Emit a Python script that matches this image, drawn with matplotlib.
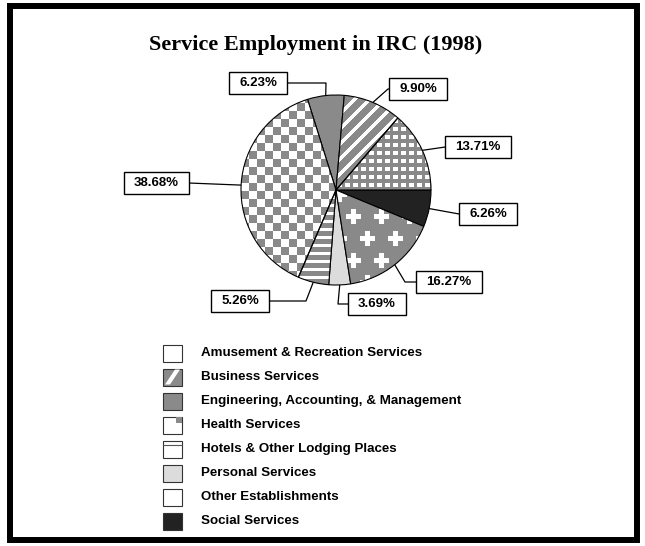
import numpy as np
import matplotlib
matplotlib.use("Agg")
import matplotlib.pyplot as plt
from matplotlib.patches import Rectangle, Polygon

# ---------------- data ----------------
title = "Service Employment in IRC (1998)"
legend_labels = ["Amusement & Recreation Services", "Business Services",
                 "Engineering, Accounting, & Management", "Health Services",
                 "Hotels & Other Lodging Places", "Personal Services",
                 "Other Establishments", "Social Services"]
# pie order (counter-clockwise from 3 o'clock)
pie_categories = ["Health Services", "Business Services",
                  "Engineering, Accounting, & Management",
                  "Amusement & Recreation Services",
                  "Hotels & Other Lodging Places", "Personal Services",
                  "Other Establishments", "Social Services"]
pie_values = [13.71, 9.90, 6.23, 38.68, 5.26, 3.69, 16.27, 6.26]

# ---------------- layout (pixels from top-left) ----------------
W, H = 645, 546
CX, CY, R = 336, 190, 95
label_pos = {
    "Health Services": ((478, 147), None),
    "Business Services": ((418, 89), (388, 89)),
    "Engineering, Accounting, & Management": ((258, 83), (326, 83)),
    "Amusement & Recreation Services": ((156, 183), None),
    "Hotels & Other Lodging Places": ((240, 301), (306, 301)),
    "Personal Services": ((377, 304), (338, 304)),
    "Other Establishments": ((449, 282), (405, 282)),
    "Social Services": ((488, 214), None),
}

GRAY = np.array([0.54, 0.54, 0.54])
WHITE = np.array([1.0, 1.0, 1.0])
LIGHT = "#dcdcdc"
DARK = "#222222"

fig = plt.figure(figsize=(W / 100, H / 100), dpi=100)
ax = fig.add_axes([0, 0, 1, 1])


def d(x, y):
    return ((x - CX) / R, (CY - y) / R)


N = 2 * R
ii, jj = np.indices((N, N))


def mk(mask):
    return np.where(mask[..., None], GRAY, WHITE)


def pat_checker():
    return mk(((ii // 8) + (jj // 8)) % 2 == 0)


def pat_small():
    white = ((ii % 8) < 4) & ((jj % 8) < 5)
    return mk(~white)


def pat_diag():
    return mk(((ii + jj) % 15) < 10)


def pat_hstripe():
    return mk((ii % 8) < 5)


def pat_cross():
    Px, Py = 28, 22
    row = ii // Py
    off = np.where(row % 2 == 0, 0, Px // 2)
    u = ((jj + off) % Px) - Px // 2
    v = (ii % Py) - Py // 2
    white = ((np.abs(u) <= 2) & (np.abs(v) <= 7)) | ((np.abs(v) <= 2) & (np.abs(u) <= 7))
    return mk(~white)


style = {
    "Health Services": ("pat", pat_small),
    "Business Services": ("pat", pat_diag),
    "Engineering, Accounting, & Management": ("col", "#8a8a8a"),
    "Amusement & Recreation Services": ("pat", pat_checker),
    "Hotels & Other Lodging Places": ("pat", pat_hstripe),
    "Personal Services": ("col", LIGHT),
    "Other Establishments": ("pat", pat_cross),
    "Social Services": ("col", DARK),
}

colors = [style[c][1] if style[c][0] == "col" else "white" for c in pie_categories]
wedges, _ = ax.pie(pie_values, colors=colors, startangle=0, counterclock=True,
                   radius=1, center=(0, 0),
                   wedgeprops=dict(edgecolor="black", linewidth=0.8))

for w, c in zip(wedges, pie_categories):
    kind, val = style[c]
    if kind == "pat":
        im = ax.imshow(val(), extent=(-1, 1, -1, 1), origin="upper",
                       interpolation="nearest", zorder=1.5)
        im.set_clip_path(w)
        w.set_facecolor("none")
        w.set_zorder(2)

ax.set_xlim(-CX / R, (W - CX) / R)
ax.set_ylim(-(H - CY) / R, CY / R)
ax.set_aspect("equal")
ax.axis("off")

fig.canvas.draw()
renderer = fig.canvas.get_renderer()
for w, c, v in zip(wedges, pie_categories, pie_values):
    (bx, by), elbow = label_pos[c]
    t = ax.text(*d(bx, by), f"{v:.2f}%", ha="center", va="center",
                fontsize=9.5, fontweight="bold", family="Liberation Sans",
                zorder=6)
    bb = t.get_window_extent(renderer)
    bw = bb.width + 20
    bh = 22
    ax.add_patch(Rectangle(d(bx - bw / 2, by + bh / 2), bw / R, bh / R,
                           facecolor="white", edgecolor="black", lw=1.0, zorder=5))
    ang = np.deg2rad((w.theta1 + w.theta2) / 2)
    ex, ey = np.cos(ang), np.sin(ang)
    pts = [(ex, ey)]
    side_x = bx - bw / 2 if bx > CX else bx + bw / 2
    if elbow is not None:
        pts.append(d(*elbow))
        pts.append(d(side_x, elbow[1]))
    else:
        pts.append(d(side_x, by))
    xs, ys = zip(*pts)
    ax.plot(xs, ys, color="black", lw=0.9, zorder=4, solid_capstyle="butt")

ax.text(*d(316, 45), title, ha="center", va="center", fontsize=16,
        fontweight="bold", family="Liberation Serif")

LX, LY0, LDY = 163, 353, 24
SW, SH = 19, 17
for k, lab in enumerate(legend_labels):
    y = LY0 + k * LDY
    x0, y0 = d(LX, y + SH / 2)
    kind, val = style[lab]
    if lab == "Business Services":
        fc = "#8a8a8a"
    elif kind == "col":
        fc = val
    else:
        fc = "white"
    ax.add_patch(Rectangle((x0, y0), SW / R, SH / R, facecolor=fc,
                           edgecolor="#333333", lw=0.8, zorder=3))
    if lab == "Business Services":
        ax.add_patch(Polygon([d(LX + 2, y + SH / 2 - 1), d(LX + 7, y + SH / 2 - 1),
                              d(LX + SW - 2, y - SH / 2 + 1), d(LX + SW - 7, y - SH / 2 + 1)],
                             closed=True, facecolor="white", edgecolor="none", zorder=4))
    elif lab == "Health Services":
        ax.add_patch(Rectangle(d(LX + SW - 6, y - SH / 2 + 6), 6 / R, 6 / R,
                               facecolor="#8a8a8a", edgecolor="none", zorder=4))
    elif lab == "Hotels & Other Lodging Places":
        ax.plot(*zip(d(LX, y - SH / 2 + 4), d(LX + SW, y - SH / 2 + 4)),
                color="#555555", lw=0.8, zorder=4)
    ax.text(*d(201, y), lab, ha="left", va="center", fontsize=9.6,
            fontweight="bold", family="Liberation Sans")

fig.patches.append(Rectangle((10 / W, 1 - 540 / H), 627 / W, 534 / H,
                             transform=fig.transFigure, fill=False,
                             edgecolor="black", lw=4.3))

fig.savefig("out.png", dpi=100)
